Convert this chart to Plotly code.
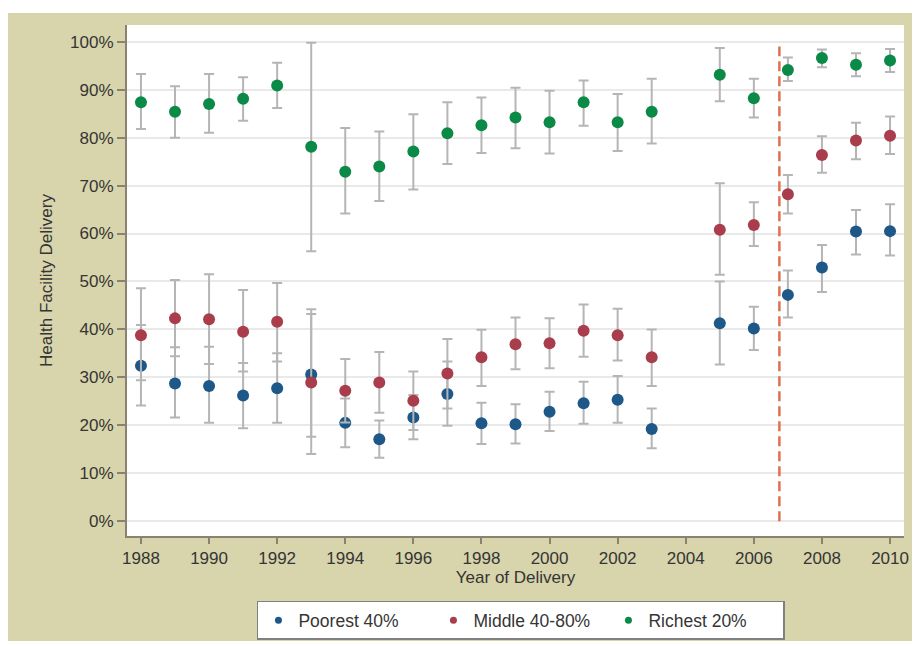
import plotly.graph_objects as go

years = [1988, 1989, 1990, 1991, 1992, 1993, 1994, 1995, 1996, 1997, 1998,
         1999, 2000, 2001, 2002, 2003, 2005, 2006, 2007, 2008, 2009, 2010]

poor_val = [32.4, 28.7, 28.2, 26.2, 27.7, 30.6, 20.5, 17.1, 21.6, 26.5, 20.4,
            20.2, 22.8, 24.6, 25.3, 19.2, 41.3, 40.2, 47.2, 52.9, 60.4, 60.5]
poor_lo = [24.1, 21.6, 20.5, 19.4, 20.5, 17.6, 15.4, 13.2, 17.1, 19.9, 16.1,
           16.2, 18.8, 20.3, 20.5, 15.2, 32.7, 35.7, 42.5, 47.8, 55.6, 55.4]
poor_hi = [40.9, 36.3, 36.4, 33.0, 35.0, 44.2, 25.6, 21.0, 26.3, 33.3, 24.7,
           24.4, 27.0, 29.1, 30.3, 23.5, 50.0, 44.7, 52.3, 57.6, 64.9, 66.1]

mid_val = [38.8, 42.3, 42.1, 39.5, 41.6, 28.9, 27.2, 28.9, 25.1, 30.8, 34.2,
           36.9, 37.1, 39.7, 38.8, 34.2, 60.8, 61.8, 68.2, 76.4, 79.4, 80.4]
mid_lo = [29.4, 34.4, 32.8, 31.2, 33.3, 14.0, 20.6, 22.6, 19.0, 23.5, 28.2,
          31.7, 31.9, 34.3, 33.5, 28.2, 51.4, 57.4, 64.2, 72.7, 75.5, 76.6]
mid_hi = [48.6, 50.3, 51.5, 48.2, 49.7, 43.2, 33.8, 35.3, 31.2, 38.0, 39.9,
          42.5, 42.3, 45.2, 44.3, 40.0, 70.5, 66.5, 72.2, 80.3, 83.1, 84.4]

rich_val = [87.4, 85.4, 87.0, 88.1, 90.9, 78.1, 72.9, 74.0, 77.1, 80.9, 82.6,
            84.2, 83.2, 87.4, 83.2, 85.4, 93.1, 88.2, 94.1, 96.6, 95.2, 96.1]
rich_lo = [81.8, 80.0, 81.0, 83.5, 86.2, 56.3, 64.2, 66.8, 69.2, 74.5, 76.8,
           77.8, 76.7, 82.5, 77.2, 78.8, 87.6, 84.2, 91.8, 94.7, 92.8, 93.7]
rich_hi = [93.3, 90.7, 93.3, 92.6, 95.6, 99.8, 82.0, 81.3, 84.9, 87.4, 88.4,
           90.4, 89.8, 91.9, 89.1, 92.3, 98.7, 92.3, 96.7, 98.4, 97.6, 98.5]

series_names = ["Poorest 40%", "Middle 40-80%", "Richest 20%"]
colors = ["#1d5889", "#a93d4c", "#0b8a47"]
y_ticks = list(range(0, 101, 10))
y_ticktext = [f"{v}%" for v in y_ticks]
x_ticks = list(range(1988, 2011, 2))
cutoff_year = 2006.75

FONT = "Liberation Sans, Arial, sans-serif"
OLIVE = "#d8d4ab"
AXIS = "#8c8070"
TXT = "#353535"

fig = go.Figure()
series = [(poor_val, poor_lo, poor_hi), (mid_val, mid_lo, mid_hi), (rich_val, rich_lo, rich_hi)]
for (vals, lo, hi), name, col in zip(series, series_names, colors):
    fig.add_trace(go.Scatter(
        x=years, y=vals, mode="markers", name=name, showlegend=False,
        marker=dict(color=col, size=12, line=dict(width=0)),
        error_y=dict(type="data", symmetric=False,
                     array=[h - v for h, v in zip(hi, vals)],
                     arrayminus=[v - l for v, l in zip(vals, lo)],
                     color="#b5b5b5", thickness=2, width=5),
    ))
for name, col in zip(series_names, colors):
    fig.add_trace(go.Scatter(x=[None], y=[None], mode="markers", name=name,
                             marker=dict(color=col, size=7)))

# vertical dashed cutoff
fig.add_shape(type="line", xref="x", yref="y", x0=cutoff_year, x1=cutoff_year,
              y0=0, y1=99, line=dict(color="#e0704f", width=2.5, dash="10px,5px"))

# figure occupies page from (8,8) because of the body margin
W, H = 912, 638
L, R, T, B = 119, 16, 17, 110
pw, ph = W - L - R, H - T - B
def px(xp):
    return (xp - L) / pw
def py(yp):
    return (H - B - yp) / ph
# white strips around the olive panel (figure coords)
for (x0, y0, x1, y1) in [(0, 0, W, 5), (904, 0, W, H), (0, 633, W, H)]:
    fig.add_shape(type="rect", xref="paper", yref="paper",
                  x0=px(x0), x1=px(x1), y0=py(y1), y1=py(y0),
                  fillcolor="white", line=dict(width=0), layer="below")

fig.update_layout(
    width=W, height=H,
    margin=dict(l=L, r=R, t=T, b=B, autoexpand=False),
    paper_bgcolor=OLIVE, plot_bgcolor="white",
    font=dict(family=FONT, size=17, color=TXT),
    showlegend=True,
    legend=dict(orientation="h", x=0.507, xanchor="center", y=-0.127, yanchor="top",
                bgcolor="white", bordercolor="#808080", borderwidth=1.5,
                font=dict(size=17.5, color=TXT),
                entrywidth=130, entrywidthmode="pixels", itemclick=False),
    xaxis=dict(range=[1987.59, 2010.41], tickvals=x_ticks, showgrid=False, zeroline=False,
               showline=True, linecolor=AXIS, linewidth=2, ticks="outside", ticklen=6,
               tickcolor=AXIS, tickwidth=1.5, tickfont=dict(size=17),
               title=dict(text="Year of Delivery", standoff=0, font=dict(size=17))),
    yaxis=dict(range=[-3.1, 103.5], tickvals=y_ticks, ticktext=y_ticktext, showgrid=True,
               gridcolor="#e9e9e9", gridwidth=1.5, zeroline=False,
               showline=True, linecolor=AXIS, linewidth=2, ticks="outside", ticklen=8,
               tickcolor=AXIS, tickwidth=1.5, tickfont=dict(size=17),
               title=dict(text="Health Facility Delivery", standoff=13, font=dict(size=17))),
)

fig.write_html("out.html")
